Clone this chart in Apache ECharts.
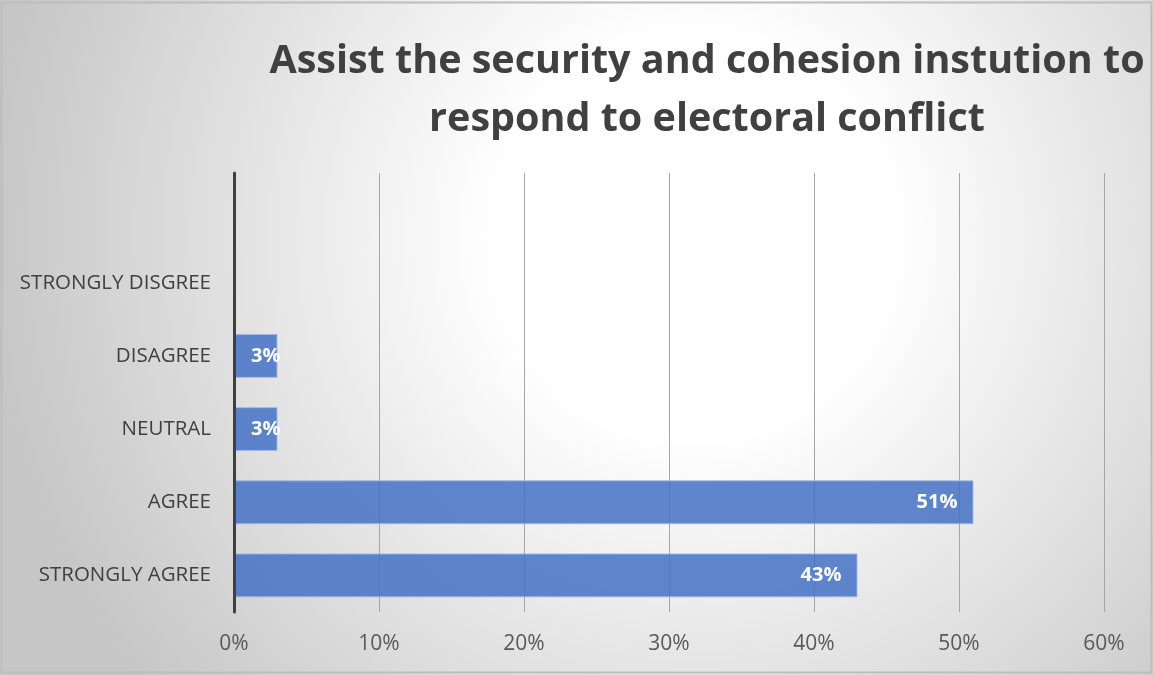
<!DOCTYPE html>
<html>
<head>
<meta charset="utf-8">
<script src="https://cdn.jsdelivr.net/npm/echarts@6/dist/echarts.min.js"></script>
<style>
  html, body { margin: 0; padding: 0; background: #ffffff; }
  #chart { width: 1153px; height: 675px; }
</style>
</head>
<body>
<div id="chart"></div>
<script>
// Survey responses, listed bottom to top; the last slot is an empty band above the top answer
const categories = ['STRONGLY AGREE', 'AGREE', 'NEUTRAL', 'DISAGREE', 'STRONGLY DISGREE', ''];
const shares = [43, 51, 3, 3, 0, null];
const tickValues = [0, 10, 20, 30, 40, 50, 60];

const titleLines = ['Assist the security and cohesion instution to', 'respond to electoral conflict'];

const chart = echarts.init(document.getElementById('chart'), null, { renderer: 'canvas' });

const barData = shares.map(function (v) {
  if (v === null) return null;
  const item = { value: v };
  if (v === 0) {
    item.label = { show: false };
    item.itemStyle = { borderWidth: 0 };
  } else if (v < 6) {
    item.label = { position: 'insideLeft', distance: 17 };
  }
  return item;
});

chart.setOption({
  backgroundColor: {
    type: 'radial', x: 0.6, y: 0.35, r: 1.05,
    colorStops: [
      { offset: 0, color: '#ffffff' },
      { offset: 0.28, color: '#ffffff' },
      { offset: 1, color: '#c6c6c6' }
    ]
  },
  animation: false,
  title: {
    text: titleLines.join('\n'),
    left: 702,
    top: 28,
    textAlign: 'center',
    textStyle: {
      fontFamily: 'Open Sans',
      fontWeight: 'bold',
      fontSize: 39.5,
      lineHeight: 58,
      color: '#404040'
    }
  },
  grid: { left: 234, right: 49, top: 173, bottom: 63, containLabel: false },
  xAxis: {
    type: 'value',
    min: 0, max: 60, interval: 10,
    axisLine: { show: false },
    axisTick: { show: false },
    splitLine: { show: true, lineStyle: { color: '#a6a6a6', width: 1 } },
    axisLabel: {
      margin: 22,
      fontFamily: 'Open Sans',
      fontSize: 21,
      color: '#595959',
      formatter: function (v) { return tickValues.indexOf(v) >= 0 ? v + '%' : ''; }
    }
  },
  yAxis: {
    type: 'category',
    data: categories,
    z: 5,
    axisLine: { show: true, lineStyle: { color: '#404040', width: 3 } },
    axisTick: { show: false },
    axisLabel: {
      margin: 23,
      fontFamily: 'Open Sans',
      fontSize: 20.5,
      color: '#404040'
    }
  },
  series: [{
    type: 'bar',
    data: barData,
    barCategoryGap: '40%',
    itemStyle: {
      color: 'rgba(68, 114, 196, 0.85)',
      borderColor: 'rgba(160, 185, 230, 0.9)',
      borderWidth: 1
    },
    label: {
      show: true,
      position: 'insideRight',
      distance: 16,
      fontFamily: 'Open Sans',
      fontWeight: 'bold',
      fontSize: 20,
      color: '#ffffff',
      formatter: function (p) { return p.value + '%'; }
    }
  }],
  graphic: [{
    type: 'rect',
    shape: { x: 1.5, y: 2.5, width: 1150, height: 670 },
    style: { fill: 'none', stroke: '#bdbdbd', lineWidth: 2 },
    silent: true
  }]
});
</script>
</body>
</html>
